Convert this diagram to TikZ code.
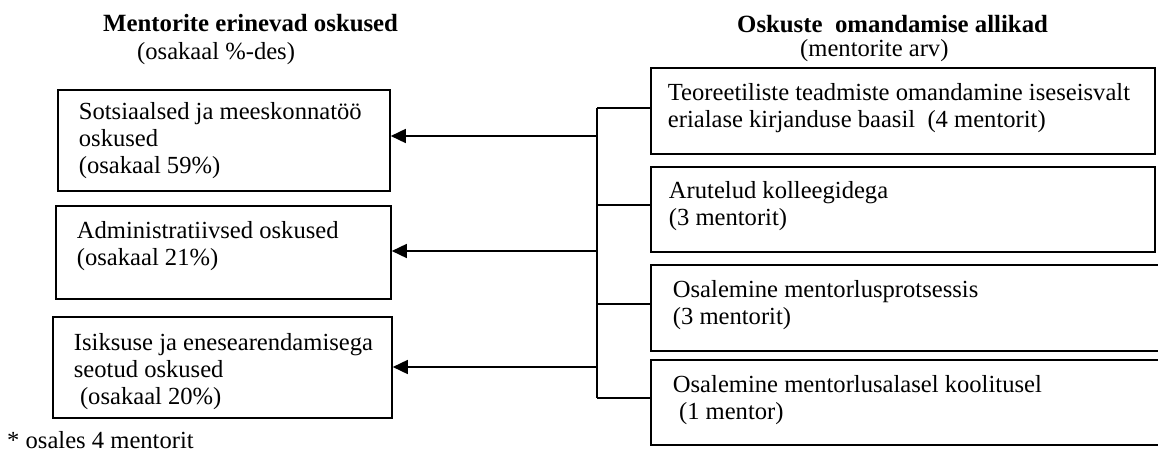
\documentclass[tikz,border=0pt]{standalone}
\usepackage{fontspec}
\setmainfont{Liberation Serif}
\usetikzlibrary{arrows.meta,calc}
\newcommand{\boxtxt}[5]{\parbox[t][#2][t]{#1}{\raggedright\setlength{\leftskip}{#3}\rule{0pt}{#4}#5}}
\tikzset{
  x=1pt, y=1pt,
  txtfont/.style={font=\fontsize{24.6}{26.8}\selectfont},
  box/.style={draw, line width=1.8pt, inner sep=0pt, anchor=north west, txtfont},
  hdr/.style={inner sep=0pt, anchor=base west, txtfont},
  link/.style={line width=1.6pt},
  arr/.style={line width=1.6pt, -{Triangle[length=15pt,width=14pt]}}
}
\begin{document}
\begin{tikzpicture}
\useasboundingbox (0,0) rectangle (1158,-454);
% headers
\node[hdr, font=\fontsize{24.8}{26.8}\selectfont\bfseries] (h1) at (103,-32) {Mentorite erinevad oskused};
\node[hdr] (h1s) at (137,-60) {(osakaal \%-des)};
\node[hdr, font=\fontsize{24.8}{26.8}\selectfont\bfseries] (h2) at (737,-33) {Oskuste\ \ omandamise allikad};
\node[hdr] (h2s) at (800,-57) {(mentorite arv)};
% left boxes
\node[box] (l1) at (57,-89) {\boxtxt{332pt}{101pt}{21pt}{30pt}{Sotsiaalsed ja meeskonnatöö\\oskused\\(osakaal 59\%)}};
\node[box] (l2) at (55,-205) {\boxtxt{335pt}{93pt}{21pt}{33pt}{Administratiivsed oskused\\(osakaal 21\%)}};
\node[box] (l3) at (52,-316) {\boxtxt{339pt}{101pt}{21pt}{34pt}{Isiksuse ja enesearendamisega\\seotud oskused\\\hspace*{0.25em}(osakaal 20\%)}};
% right boxes
\node[box] (r1) at (650,-67) {\boxtxt{504pt}{86pt}{17pt}{33pt}{Teoreetiliste teadmiste omandamine iseseisvalt\\erialase kirjanduse baasil\ \ (4 mentorit)}};
\node[box] (r2) at (650,-166) {\boxtxt{504pt}{85pt}{18pt}{32pt}{Arutelud kolleegidega\\(3 mentorit)}};
\node[box] (r3) at (650,-264) {\boxtxt{530pt}{86pt}{22pt}{33pt}{Osalemine mentorlusprotsessis\\(3 mentorit)}};
\node[box] (r4) at (650,-359) {\boxtxt{530pt}{85pt}{22pt}{33pt}{Osalemine mentorlusalasel koolitusel\\\hspace*{0.25em}(1 mentor)}};
% footnote
\node[hdr] (fn) at (7,-448) {* osales 4 mentorit};
% bus
\coordinate (b1) at (597,-108);
\coordinate (b2) at (597,-205);
\coordinate (b3) at (597,-304);
\coordinate (b4) at (597,-398);
\coordinate (a1) at (597,-136);
\coordinate (a2) at (597,-251);
\coordinate (a3) at (597,-367);
\draw[link] (b1) -- (b4);
\draw[link] (b1) -- (b1 -| r1.west);
\draw[link] (b2) -- (b2 -| r2.west);
\draw[link] (b3) -- (b3 -| r3.west);
\draw[link] (b4) -- (b4 -| r4.west);
\draw[arr] (a1) -- (a1 -| l1.east);
\draw[arr] (a2) -- (a2 -| l2.east);
\draw[arr] (a3) -- (a3 -| l3.east);
\end{tikzpicture}
\end{document}
